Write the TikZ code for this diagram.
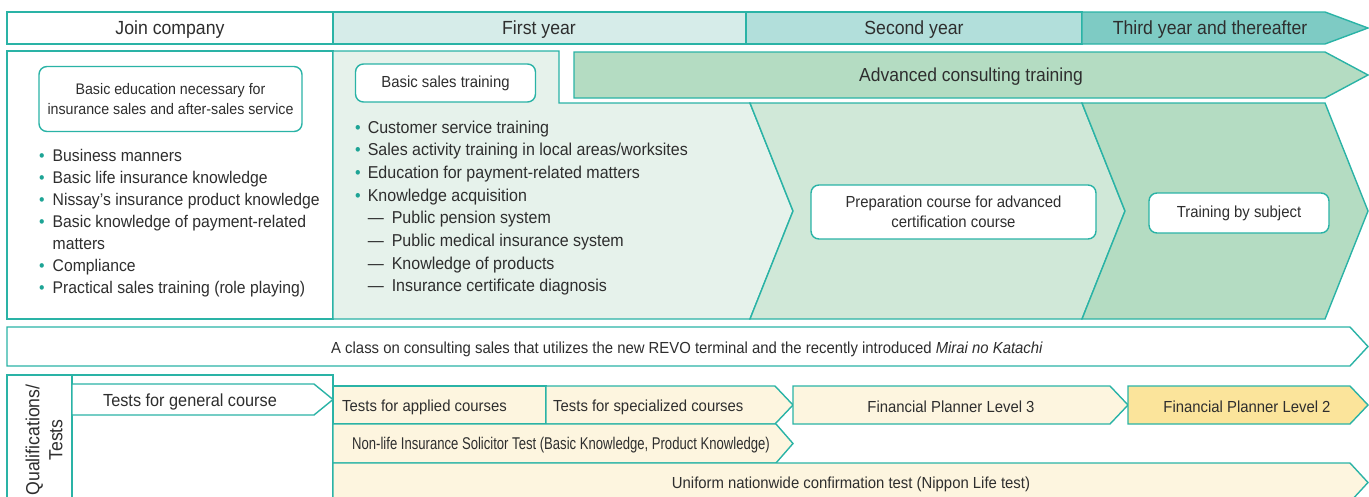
\documentclass[tikz,border=0pt]{standalone}
\usepackage{fontspec}
\setmainfont{Liberation Sans}[FakeStretch=0.93]
\newfontfamily\narrowfont{Liberation Sans}[FakeStretch=0.77]
\usetikzlibrary{positioning}

\definecolor{rim}{HTML}{2AB3A6}
\definecolor{ink}{HTML}{2E2E2E}
\definecolor{hdone}{HTML}{D6ECE9}
\definecolor{hdtwo}{HTML}{B2DFDB}
\definecolor{hdthree}{HTML}{7ECBC4}
\definecolor{yrone}{HTML}{E6F2EB}
\definecolor{yrtwo}{HTML}{D0E8D8}
\definecolor{yrthree}{HTML}{B4DCC2}
\definecolor{testy}{HTML}{FDF5DF}
\definecolor{fptwo}{HTML}{FBE49B}
\definecolor{dotc}{HTML}{1DA495}

\newcommand{\fsz}[2]{\fontsize{#1}{#2}\selectfont}
\newcommand{\bul}{\textcolor{dotc}{\textbullet}}
\newcommand{\sub}{\textemdash\hspace{8pt}}

% box with a pointed right end: x1, y1, end of body, tip, y2
\newcommand{\tipbox}[6][]{%
  \filldraw[panel,#1] (#2,#3) -- (#4,#3) -- (#5,{(#3+#6)/2}) -- (#4,#6) -- (#2,#6) -- cycle;}

\tikzset{
  panel/.style={draw=rim, line width=1.4pt},
  lbl/.style={text=ink, inner sep=0pt},
  hd/.style={lbl, font=\fsz{19}{22}},
  rbox/.style={lbl, draw=rim, fill=white, line width=1.4pt, rounded corners=8pt,
    align=center, font=\fsz{16}{20.5}},
  list/.style={lbl, anchor=base west},
  tst/.style={lbl, font=\fsz{16}{19}},
}

\begin{document}
\begin{tikzpicture}[x=1pt, y=-1pt]
\useasboundingbox (0,0) rectangle (1369,496);
\clip (0,0) rectangle (1369,496);

% year headings
\filldraw[panel, fill=white] (7,12) rectangle (333,44);
\filldraw[panel, fill=hdone] (333,12) rectangle (746,44);
\filldraw[panel, fill=hdtwo] (746,12) rectangle (1082,44);
\tipbox[fill=hdthree]{1082}{12}{1325}{1368}{44}
\node[hd] (join) at (170,30) {Join company};
\node[hd] (yearone) at (539,30) {First year};
\node[hd] (yeartwo) at (914,30) {Second year};
\node[hd] (yearthree) at (1210,30) {Third year and thereafter};

% training stages
\filldraw[panel, fill=white] (7,51) rectangle (333,319);
\filldraw[panel, fill=yrone] (333,51) -- (559,51) -- (559,103) -- (750,103)
  -- (793,211) -- (750,319) -- (333,319) -- cycle;
\filldraw[panel, fill=yrtwo] (750,103) -- (1082,103) -- (1125,211)
  -- (1082,319) -- (750,319) -- (793,211) -- cycle;
\filldraw[panel, fill=yrthree] (1082,103) -- (1325,103) -- (1368,211)
  -- (1325,319) -- (1082,319) -- (1125,211) -- cycle;
\tipbox[fill=yrthree]{574}{52}{1325}{1368}{98}
\node[hd, font=\fsz{18.8}{22}] (advanced) at (971,77) {Advanced consulting training};

\node[rbox, font=\fsz{15.3}{20}, minimum width=263pt, minimum height=65pt]
  (basicedu) at (170.5,99) {Basic education necessary for\\insurance sales and after-sales service};
\node[rbox, minimum width=180pt, minimum height=38pt]
  (basicsales) at (445.5,83) {Basic sales training};
\node[rbox, minimum width=285pt, minimum height=54pt]
  (prep) at (953.5,212) {Preparation course for advanced\\certification course};
\node[rbox, minimum width=180pt, minimum height=40pt]
  (subject) at (1239,213) {Training by subject};

\node[list, font=\fsz{16.9}{22}] (joinlist) at (39,161) {%
  \begin{tabular}[t]{@{}l@{\hspace{8pt}}l@{}}
  \bul & Business manners\\
  \bul & Basic life insurance knowledge\\
  \bul & Nissay’s insurance product knowledge\\
  \bul & Basic knowledge of payment-related\\
       & matters\\
  \bul & Compliance\\
  \bul & Practical sales training (role playing)
  \end{tabular}};
\node[list, font=\fsz{17.2}{22.7}] (salelist) at (355,133) {%
  \begin{tabular}[t]{@{}l@{\hspace{7pt}}l@{}}
  \bul & Customer service training\\
  \bul & Sales activity training in local areas/worksites\\
  \bul & Education for payment-related matters\\
  \bul & Knowledge acquisition\\
       & \sub Public pension system\\
       & \sub Public medical insurance system\\
       & \sub Knowledge of products\\
       & \sub Insurance certificate diagnosis
  \end{tabular}};

% class banner
\tipbox[fill=white]{7}{327}{1350}{1368}{366}
\node[tst] (revo) at (687,349) {A class on consulting sales that utilizes the new REVO terminal
  and the recently introduced \textit{Mirai no Katachi}};

% qualifications and tests
\filldraw[panel, fill=white] (7,375) rectangle (333,505);
\draw[panel] (72,375) -- (72,505);
\node[lbl, rotate=90, align=center, font=\fsz{19}{23}] (quals) at (44,440) {Qualifications/\\Tests};
\tipbox[fill=white]{72}{384}{314}{333}{415}
\node[tst, font=\fsz{17.5}{20}] (general) at (190,402) {Tests for general course};

\filldraw[panel, fill=testy] (333,386) rectangle (546,424);
\tipbox[fill=testy]{546}{386}{775}{793}{424}
\tipbox[fill=testy]{793}{386}{1110}{1128}{424}
\tipbox[fill=fptwo]{1128}{386}{1350}{1368}{424}
\tipbox[fill=testy]{333}{424}{776}{793}{463}
\tipbox[fill=testy]{333}{463}{1350}{1368}{502}
\node[tst, anchor=west] (applied) at (342,407) {Tests for applied courses};
\node[tst, anchor=west] (special) at (553,407) {Tests for specialized courses};
\node[tst] (fpthree) at (951,407) {Financial Planner Level 3};
\node[tst] (fptwo) at (1247,407) {Financial Planner Level 2};
\node[tst, font=\narrowfont\fsz{17}{19}] (nonlife) at (561,445)
  {Non-life Insurance Solicitor Test (Basic Knowledge, Product Knowledge)};
\node[tst] (uniform) at (851,484) {Uniform nationwide confirmation test (Nippon Life test)};
\end{tikzpicture}
\end{document}
